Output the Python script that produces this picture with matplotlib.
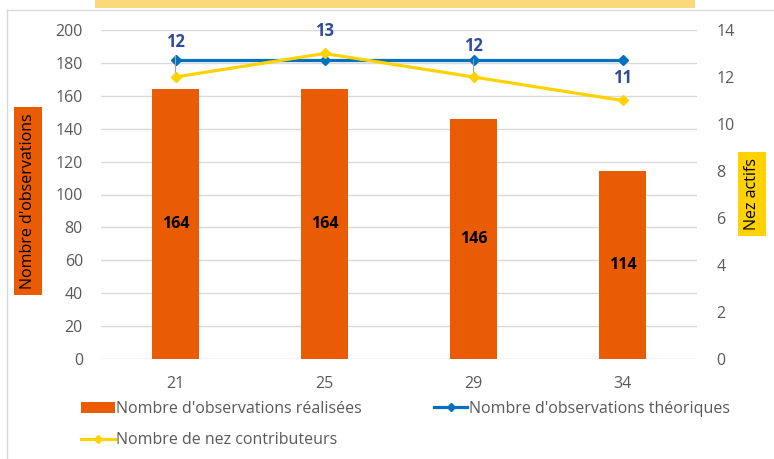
import matplotlib.pyplot as plt
from matplotlib.lines import Line2D
from matplotlib.patches import Patch, Rectangle

# donnees
categories = ['21', '25', '29', '34']
obs_realisees = [164, 164, 146, 114]
obs_theoriques = [182, 182, 182, 182]
nez_contributeurs = [12, 13, 12, 11]

# decalage (points) des etiquettes de la serie jaune
label_offsets = [25, 16, 22, 16]
label_leader = [True, False, True, False]

ORANGE = '#E95C03'
BLUE = '#0070C0'
YELLOW = '#FFD200'
LABEL_BLUE = '#2F4B9C'
GRID = '#D9D9D9'
TICK = '#595959'

plt.rcParams['font.family'] = ['Open Sans', 'DejaVu Sans']
FS = 11.5

fig = plt.figure(figsize=(7.74, 4.59), dpi=100)
ax = fig.add_axes([101 / 774, 100 / 459, 596 / 774, 329 / 459])
ax2 = ax.twinx()

x = list(range(len(categories)))

ax.bar(x, obs_realisees, width=0.315, color=ORANGE, zorder=2)
for xi, v in zip(x, obs_realisees):
    ax.text(xi, v / 2, str(v), ha='center', va='center',
            fontweight='bold', fontsize=FS, color='black', zorder=3)

ax.plot(x, obs_theoriques, color=BLUE, lw=2.3, marker='D', markersize=5.5, zorder=4)
ax2.plot(x, nez_contributeurs, color=YELLOW, lw=2.3, marker='D', markersize=5.5, zorder=4)

for xi, v, off, lead in zip(x, nez_contributeurs, label_offsets, label_leader):
    arrow = dict(arrowstyle='-', color='#A6A6A6', lw=0.8, shrinkA=1, shrinkB=0) if lead else None
    ax2.annotate(str(v), xy=(xi, v), xytext=(0, off), textcoords='offset points',
                 ha='center', va='center', fontweight='bold', fontsize=FS + 0.5,
                 color=LABEL_BLUE, arrowprops=arrow, zorder=1)

ax.set_xlim(-0.5, 3.5)
ax.set_ylim(0, 200)
ax.set_yticks(range(0, 201, 20))
ax2.set_ylim(0, 14)
ax2.set_yticks(range(0, 15, 2))
ax.set_xticks(x)
ax.set_xticklabels(categories)

ax.yaxis.grid(True, color=GRID, lw=1)
ax.set_axisbelow(True)
for a in (ax, ax2):
    for s in a.spines.values():
        s.set_visible(False)
    a.tick_params(length=0, colors=TICK, labelsize=FS)
ax.tick_params(axis='y', pad=13)
ax2.tick_params(axis='y', pad=14)
ax.tick_params(axis='x', pad=12)

# titres des axes dans des cadres colores
fig.text(28 / 774, 1 - 201 / 459, "Nombre d'observations", rotation=90,
         ha='center', va='center', fontsize=FS,
         bbox=dict(facecolor=ORANGE, edgecolor='none', boxstyle='square,pad=0.4'))
fig.text(752 / 774, 1 - 194 / 459, 'Nez actifs', rotation=90,
         ha='center', va='center', fontsize=FS,
         bbox=dict(facecolor=YELLOW, edgecolor='none', boxstyle='square,pad=0.4'))

# legende
handles = [
    Patch(facecolor=ORANGE, edgecolor='none'),
    Line2D([], [], color=YELLOW, lw=2.3, marker='D', markersize=4),
    Line2D([], [], color=BLUE, lw=2.3, marker='D', markersize=4),
]
labels = ["Nombre d'observations réalisées", 'Nombre de nez contributeurs',
          "Nombre d'observations théoriques"]
fig.legend(handles, labels, loc='upper left', bbox_to_anchor=(81 / 774, 1 - 401 / 459),
           ncol=2, frameon=False, fontsize=FS, handlelength=2.1, handletextpad=0.1,
           columnspacing=4.5, labelspacing=0.95, borderaxespad=0, borderpad=0,
           labelcolor=TICK)

# cadre du graphique et bandeau jaune du titre
fig.add_artist(Line2D([7 / 774, 7 / 774], [0, 1 - 10 / 459], color=GRID, lw=1))
fig.add_artist(Line2D([7 / 774, 1], [1 - 10 / 459, 1 - 10 / 459], color=GRID, lw=1))
fig.add_artist(Rectangle((95 / 774, 1 - 8 / 459), 600 / 774, 8 / 459,
                         facecolor='#FAD97A', edgecolor='none', transform=fig.transFigure))

fig.savefig('out.png', dpi=100)
